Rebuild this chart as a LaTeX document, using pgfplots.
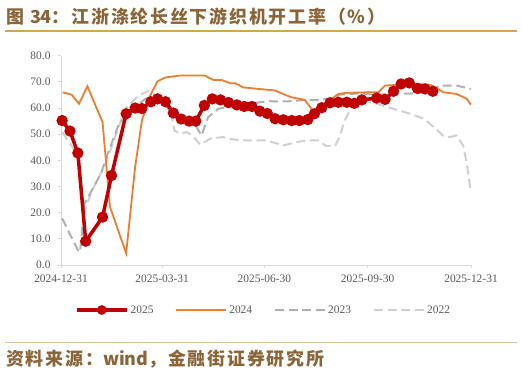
\documentclass[border=0pt]{standalone}
\usepackage{pgfplots}
\pgfplotsset{compat=1.18}
\usepackage{fontspec}
\setmainfont{Liberation Serif}
\newfontfamily\cjk[LetterSpace=10]{Noto Sans CJK SC}
\newfontfamily\cjkl{Noto Sans CJK SC}
\definecolor{c25}{HTML}{C00000}
\definecolor{c24}{HTML}{ED7D31}
\definecolor{c23}{HTML}{B0B0B0}
\definecolor{c22}{HTML}{CFCFCF}
\definecolor{titlec}{HTML}{8B6438}
\definecolor{gold}{HTML}{DAA548}
\definecolor{tanl}{HTML}{DCC291}
\definecolor{tickc}{HTML}{595959}
\definecolor{axc}{HTML}{D9D9D9}
\begin{document}
\begin{tikzpicture}
\path[use as bounding box] (0bp,0bp) rectangle (522bp,376bp);
\node[anchor=west, inner sep=0pt, text=titlec, font=\cjk\bfseries\fontsize{18}{20}\selectfont] at (6bp,359bp) {图 {\cjkl\bfseries 34}：江浙涤纶长丝下游织机开工率（\%）};
\draw[gold, line width=1.2bp] (5bp,345bp) -- (517bp,345bp);
\draw[tanl, line width=1.2bp] (5bp,33.3bp) -- (517bp,33.3bp);
\node[anchor=west, inner sep=0pt, text=titlec, font=\cjk\bfseries\fontsize{18}{20}\selectfont] at (6bp,17bp) {资料来源：{\cjkl\bfseries wind}，金融街证券研究所};
\begin{axis}[
  at={(61bp,111bp)}, anchor=south west,
  scale only axis, width=410bp, height=209.3bp,
  xmin=0, xmax=365, ymin=0, ymax=80,
  axis lines*=left,
  axis line style={draw=axc, line width=0.8bp},
  tick style={draw=axc, line width=0.8bp},
  major tick length=3bp, tick align=outside,
  xtick={0,90,181,273,365},
  xticklabels={2024-12-31,2025-03-31,2025-06-30,2025-09-30,2025-12-31},
  ytick={0,10,...,80},
  /pgf/number format/assume math mode=true,
  yticklabel style={xshift=-4bp, /pgf/number format/fixed, /pgf/number format/fixed zerofill, /pgf/number format/precision=1},
  ticklabel style={font=\fontsize{11.5}{13}\selectfont, text=tickc},
  xticklabel style={yshift=-3bp},
  legend columns=4,
  legend style={draw=none, fill=none, at={(0.494,-0.215)}, anchor=center,
    font=\fontsize{11.5}{13}\selectfont, text=tickc,
    /tikz/every even column/.append style={column sep=20bp}},
  legend image code/.code={\draw[mark repeat=2,mark phase=2,#1] plot coordinates {(0bp,0bp) (25bp,0bp) (50bp,0bp)};},
]
\addlegendimage{c25, line width=3.5bp, mark=*, mark size=3bp}
\addlegendentry{2025}
\addlegendimage{c24, line width=1.8bp}
\addlegendentry{2024}
\addlegendimage{c23, line width=2bp, dash pattern=on 9bp off 4.6bp}
\addlegendentry{2023}
\addlegendimage{c22, line width=2bp, dash pattern=on 9bp off 4.6bp}
\addlegendentry{2022}

% 2022
\addplot[forget plot, c22, line width=2bp, dash pattern=on 9bp off 4.6bp] coordinates {
(1,50.8)(15,42)(21,20.3)(27,28)(33,33)(39,38)(45,45)(57,59.7)(69,64.8)(78,66.5)(88,64)(97,60.3)(101,51.4)(106,50.2)(112,50.8)(117,49.5)(124,46)(133,48.3)(144,48.9)(153,48)(162,47.6)(183,47.6)(198,45.7)(210,47)(219,47.6)(229,47.6)(236,45.5)(244,45.5)(248,48.9)(252,54.6)(257,59)(261,61.6)(270,62.5)(281,61.6)(296,59.7)(311,57.8)(323,55.9)(332,52.7)(340,49.5)(346,48.9)(352,49.5)(358,45.7)(361,39.4)(364,30.5)(365,28)
};
% 2023
\addplot[forget plot, c23, line width=2bp, dash pattern=on 9bp off 4.6bp] coordinates {
(1,17.8)(15,5.7)(17,5)(21,23.5)(30,30.5)(36,35.5)(42,43)(51,53.3)(60,58.4)(75,63.5)(85,64)(95,60)(100,57.1)(109,54.6)(119,54)(125,49.5)(131,56.5)(140,59.7)(147,60.3)(162,61)(177,62.2)(186,62.6)(200,62.5)(218,63.1)(228,63)(241,63.7)(248,65.1)(266,65.6)(280,65)(293,65.4)(317,65.6)(331,66.7)(337,68.6)(352,68.6)(365,67.3)
};
% 2024
\addplot[forget plot, c24, line width=1.8bp] coordinates {
(1.5,66)(9.5,65.1)(16,61.6)(23.5,68.3)(37,54.6)(43.6,22.2)(58,4.5)(66,37.5)(72,55.2)(78.6,64.1)(85.8,70.2)(93,71.7)(106,72.4)(128,72.4)(135.6,70.7)(143,70.7)(150.5,69.5)(155,69.5)(162,67.9)(183,67)(190.6,66.7)(199.5,65)(205.4,64.1)(217,63.1)(224.7,58.8)(231,61)(236.6,62.2)(247,65.4)(254.4,65.8)(272,66)(282.6,66)(288.5,68.6)(316.7,69.2)(328.6,68.9)(334.5,67.6)(340.4,66)(352,65.4)(361.3,63.5)(365,61.2)
};
% 2025
\addplot[forget plot, c25, line width=3.5bp, mark=*, mark size=3.8bp] coordinates {
(1,55.2)(8,51.2)(15,42.8)(22,9.1)(37,18.3)(45,34.2)(58,57.8)(66,60)(72,59.8)(80,62.4)(86,63.5)(93,62.4)(100,58.1)(107,55.8)(114,55)(120,55)(127.6,61)(134.7,63.5)(142,63.1)(149,62.1)(156.5,61.2)(163,60.6)(170,60.6)(177,58.8)(183.7,57.9)(190.6,55.9)(198,55.5)(205.4,55.2)(212.2,55.2)(219.7,55.6)(225.6,57.8)(232.1,60.1)(239.5,62)(246.9,62.2)(254.4,62.2)(261.2,61.8)(267.8,63.1)(281,63.8)(288.5,63.3)(296,66.4)(302.8,69.2)(310,69.6)(317.3,67.5)(324.1,67.3)(331,66.4)
};
\end{axis}
\end{tikzpicture}
\end{document}
